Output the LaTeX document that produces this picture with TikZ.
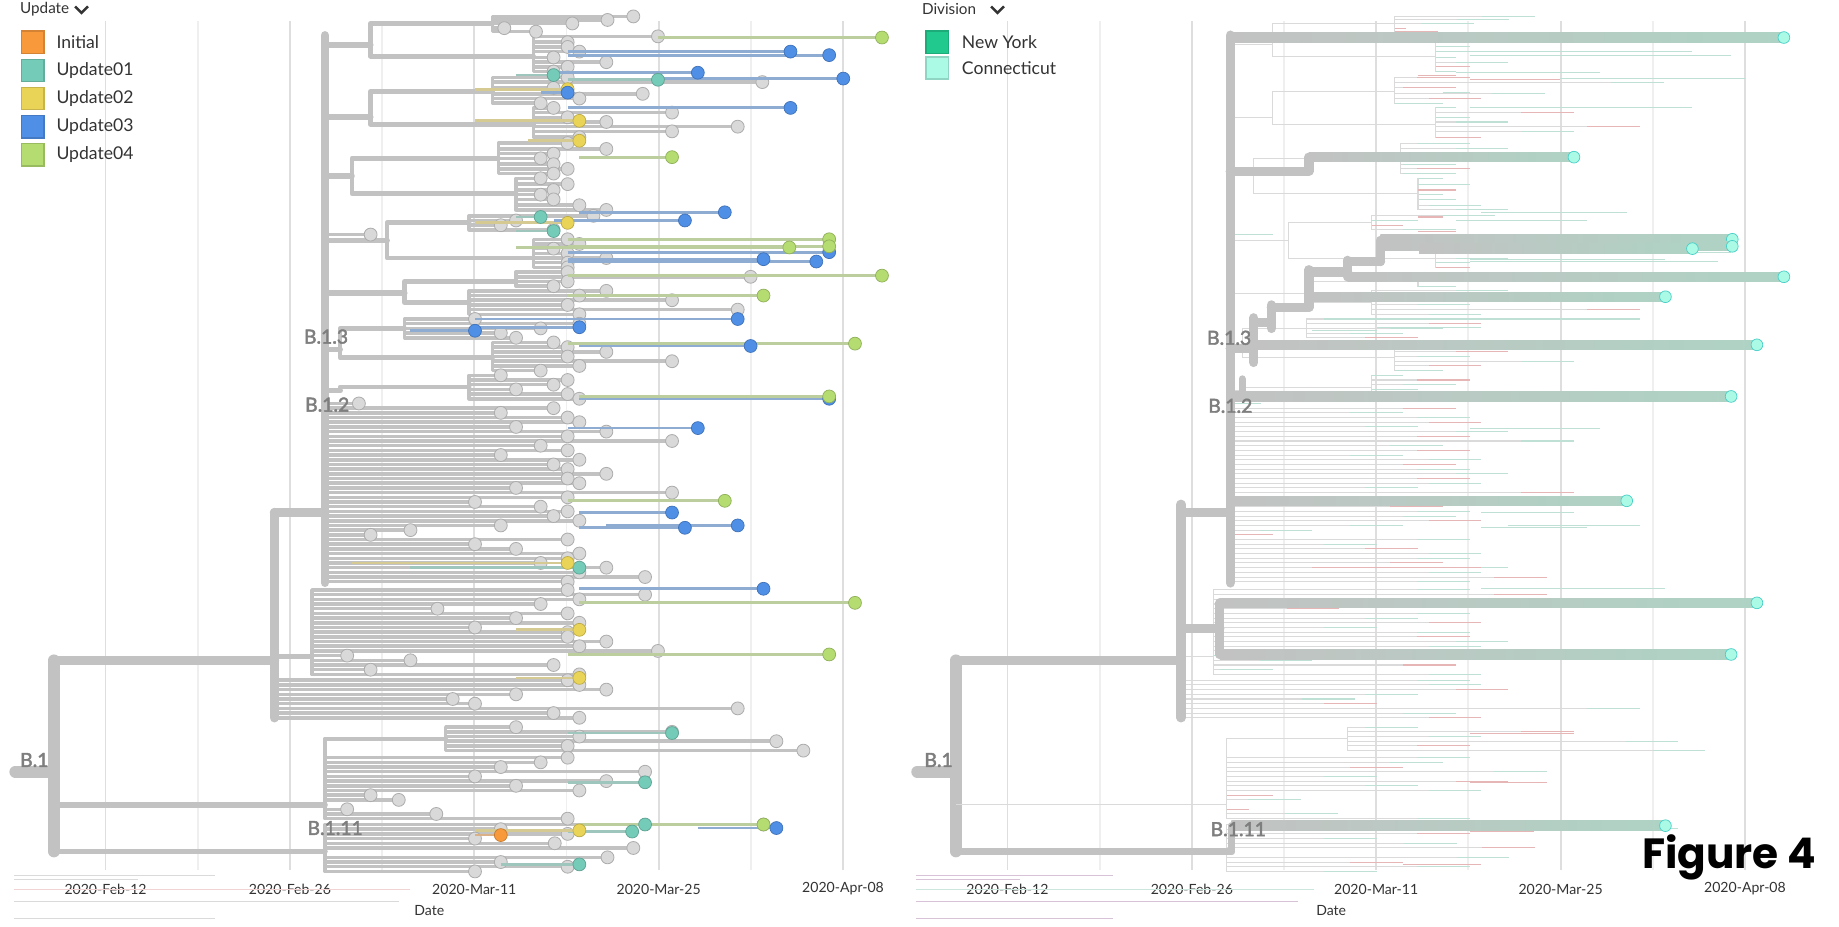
\documentclass[tikz,border=0pt]{standalone}
\usepackage{fontspec}
\setmainfont{Lato}
\newfontfamily\cladefont{Lato}[FakeBold=2.2]
\newfontfamily\figfont{Poppins}

\definecolor{branch}{HTML}{C2C2C2}
\definecolor{thinline}{HTML}{DADADA}
\definecolor{tipfill}{HTML}{D9D9D9}
\definecolor{tipedge}{HTML}{ADADAD}
\definecolor{gridmaj}{HTML}{DEDEDE}
\definecolor{gridmin}{HTML}{EFEFEF}
\definecolor{textdark}{HTML}{333333}
\definecolor{labelgrey}{HTML}{7E7E7E}
\definecolor{cInitial}{HTML}{F89A3C}
\definecolor{cUpOne}{HTML}{74CBB8}
\definecolor{cUpTwo}{HTML}{EAD458}
\definecolor{cUpThree}{HTML}{4F8FE6}
\definecolor{cUpFour}{HTML}{B4DC70}
\definecolor{cNY}{HTML}{22C98F}
\definecolor{cCT}{HTML}{AAFAE6}
\definecolor{ctgreen}{HTML}{AED3C4}
\definecolor{tipteal}{HTML}{BFE0D4}
\definecolor{tipred}{HTML}{E6B6B6}

% inner links: y / from x / to x
\def\innerlinks{38/277/316,100/277/316,150/277/300,205/277/330,250/277/345,298/277/290,333/277/290}

% leaf fans: parent x / parent y / node x / node y / {tip y / tip x, ...}
\def\treegroups{%
316/38/420/20/{14/540,17/518,20/488,24/430,27/457},%
316/38/455/48/{31/561,36/484,40/484,44/494,49/472,53/517,57/484,61/472},%
316/100/420/78/{66/484,70/650,75/472,80/548,84/494,88/461},%
316/100/455/106/{92/472,96/573,100/484,104/517,108/629,112/573,117/494},%
300/150/425/135/{122/484,127/517,131/472,135/461,140/472,144/484,148/472},%
300/150/440/165/{152/461,157/484,162/472,166/461,170/472,175/494,179/517},%
277/200/277/200/{200/316},%
330/205/400/190/{184/506,188/440,192/427,196/472},%
330/205/455/220/{204/484,208/494,212/472,216/484,220/517,224/484,228/484},%
345/250/440/240/{232/484,236/640,240/484,244/472},%
345/250/400/258/{248/517,252/494,256/573,260/484,264/629,268/494},%
290/298/345/280/{272/405,276/494,280/461,284/427,288/440},%
290/298/420/305/{292/472,296/484,300/517,304/484,308/573,312/494,316/461},%
290/333/400/330/{320/427,324/484,328/472,332/440,336/484,340/494},%
277/346/277/346/{344/306,348/472},%
277/420/277/420/{352/427,356/484,360/494,364/440,368/517,372/484,376/573,380/461,384/484,388/427,392/494,396/472,400/484,404/517,408/484,412/494,416/440,420/573,424/484,428/405,432/461,436/484,440/472,444/494,448/427,452/350,456/316,460/484,464/405,468/440,472/494,476/484,480/461,484/517,488/494,492/550,496/484},%
234/560/266/560/{503/484,507/550,511/494,515/461,519/373,523/484,527/440,531/494,535/405,539/484,543/484,547/517,551/494,555/561,559/296,563/350,567/472,571/316,575/494},%
234/598/234/598/{580/484,584/494,588/517,592/440,596/386,600/405,604/629,608/472,612/494},%
277/686/380/630/{620/440,624/573,628/494,632/662,636/484,640/685},%
46/686/277/686/{646/484,650/461,654/427,658/550,662/405,666/517,670/440,674/494,678/316,682/340,690/296,694/372,698/484},%
46/726/277/726/{703/651,707/427,711/484,715/405,719/473,723/540,731/518,735/427,739/484,743/405}}

% coloured tips: y / start x / tip x
\def\tipsInitial{712/405/427}
\def\tipsOne{64/440/472,68/484/561,185/440/461,197/440/472,484/350/494,625/484/573,667/484/550,703/494/550,709/484/539,737/427/494}
\def\tipsTwo{76/405/484,103/405/494,120/450/494,190/405/484,480/300/484,537/440/494,578/440/494,708/405/494}
\def\tipsThree{44/484/674,47/484/707,62/472/595,67/561/719,92/484/674,79/461/484,181/494/618,188/472/584,221/484/651,223/484/696,215/484/707,272/405/629,295/494/640,282/350/405,279/405/494,340/494/707,365/484/595,437/494/573,450/494/584,448/517/629,502/494/651,706/595/662}
\def\tipsFour{32/561/752,134/494/573,204/484/707,210/484/707,211/440/673,235/484/752,252/484/651,293/484/729,338/494/707,427/484/618,514/494/729,558/484/707,703/494/651}

\newcommand{\tiplines}[2]{\foreach \y/\xs/\xe in #2 \draw[cline=#1] (\xs,\y) -- (\xe,\y);}
\newcommand{\tipdots}[2]{\foreach \y/\xs/\xe in #2 \filldraw[ctip=#1] (\xe,\y) circle (5.5);}
\newcommand{\ctbranch}[3]{%
  \shade[left color=branch, right color=ctgreen] (#2,#1-4) rectangle (#3,#1+4);
  \filldraw[fill=cCT, draw=cCT!70!black!60!cyan, line width=0.6] (#3,#1) circle (5);}

\begin{document}
\begin{tikzpicture}[x=1pt, y=-1pt,
  br/.style={draw=branch, line width=#1, line cap=round, line join=round},
  br/.default=3,
  thinbr/.style={draw=thinline, line width=0.9},
  gridline/.style={draw=#1, line width=1.6},
  gtip/.style={fill=tipfill, draw=tipedge, line width=0.7},
  ctip/.style={fill=#1, draw=#1!80!black, line width=0.6},
  cline/.style={draw=#1!45!branch, line width=2.4},
  clade/.style={font=\fontsize{16.5}{18}\cladefont, text=labelgrey, anchor=west, inner sep=0},
  ticklab/.style={font=\fontsize{12}{14}\selectfont, text=textdark, inner sep=0},
  headtext/.style={font=\fontsize{13}{15}\selectfont, text=textdark, anchor=west, inner sep=0},
  legtext/.style={font=\fontsize{15}{17}\selectfont, text=textdark, anchor=west, inner sep=0},
  swatch/.style={minimum size=19, inner sep=0, fill=#1, draw=#1!85!black, line width=1.2}]

\useasboundingbox (0,0) rectangle (1568,790);
\fill[white] (0,0) rectangle (1568,790);

% date grid
\foreach \k in {0,...,8} {
  \ifodd\k \def\gc{gridmin}\else\def\gc{gridmaj}\fi
  \draw[gridline=\gc] ({90+78.6*\k},18) -- ({90+78.6*\k},742);
  \draw[gridline=\gc] ({859+78.6*\k},18) -- ({859+78.6*\k},742);
}
\foreach \d [count=\i from 0] in {Feb-12,Feb-26,Mar-11,Mar-25,Apr-08} {
  \node[ticklab] (tl\i) at ({90+157.2*\i},758) {2020-\d};
  \node[ticklab] (tr\i) at ({859+157.2*\i},758) {2020-\d};
}
\node[ticklab] (dateL) at (366,776) {Date};
\node[ticklab] (dateR) at (1135,776) {Date};

% stray branches under the axis
\draw[thinline] (12,746) -- (183,746) (12,750) -- (118,750) (12,768) -- (340,768) (12,783) -- (183,783);
\draw[tipred!60] (12,758) -- (350,758);
\draw[thinline!70!violet!60] (781,746) -- (949,746) (781,750) -- (870,750) (781,768) -- (1107,768) (781,783) -- (949,783);
\draw[tipteal!80] (781,758) -- (1120,758);

%%% left tree
\draw[br=10] (13,658) -- (46,658);
\draw[br=10] (46,563) -- (46,726);
\draw[br=8] (46,563) -- (234,563);
\draw[br=5] (46,686) -- (277,686);
\draw[br=5] (46,726) -- (277,726);
\draw[br=8] (234,437) -- (234,612);
\draw[br=8] (234,437) -- (277,437);
\draw[br=7] (277,30) -- (277,497);

\foreach \y/\xa/\xb in \innerlinks \draw[br=5] (\xa,\y) -- (\xb,\y);
\foreach \px/\py/\gx/\gy/\rows in \treegroups {
  \draw[br=4] (\px,\py) |- (\gx,\gy);
  \foreach \y/\xb in \rows
    \draw[br=3] (\gx,\gy) |- (\xb,\y);
}
\foreach \px/\py/\gx/\gy/\rows in \treegroups {
  \foreach \y/\xb in \rows
    \filldraw[gtip] (\xb,\y) circle (5.5);
}
\tiplines{cUpOne}{\tipsOne}
\tiplines{cUpTwo}{\tipsTwo}
\tiplines{cUpThree}{\tipsThree}
\tiplines{cUpFour}{\tipsFour}
\tiplines{cInitial}{\tipsInitial}
\tipdots{cUpOne}{\tipsOne}
\tipdots{cUpTwo}{\tipsTwo}
\tipdots{cUpThree}{\tipsThree}
\tipdots{cUpFour}{\tipsFour}
\tipdots{cInitial}{\tipsInitial}

%%% right tree, thin branches first
\begin{scope}[xshift=769]
\foreach \y/\xa/\xb in \innerlinks \draw[thinbr] (\xa,\y) -- (\xb,\y);
\foreach \px/\py/\gx/\gy/\rows in \treegroups {
  \draw[thinbr] (\px,\py) |- (\gx,\gy);
  \foreach \y/\xb in \rows {
    \draw[thinbr] (\gx,\gy) |- (\xb,\y);
    \pgfmathtruncatemacro\m{mod(\y,3)}
    \ifnum\m=0 \def\tc{tipred}\else\def\tc{tipteal}\fi
    \draw[draw=\tc, line width=0.9] ({max(\gx,\xb-45)},\y) -- (\xb,\y);
  }
}
\foreach \y/\xs/\xe in \tipsThree \draw[draw=tipteal, line width=0.9] (\xs,\y) -- (\xe,\y);
\foreach \y/\xs/\xe in \tipsOne \draw[draw=tipred, line width=0.9] (\xs,\y) -- (\xe,\y);
\end{scope}

% right backbone
\draw[br=10] (782,658) -- (815,658);
\draw[br=10] (815,563) -- (815,726);
\draw[br=8] (815,563) -- (1007,563);
\draw[thinbr] (815,686) -- (1046,686);
\draw[br=6] (815,726) -- (1050,726);
\draw[br=8] (1007,430) -- (1007,612);
\draw[br=8] (1007,437) -- (1049,437);
\draw[br=8] (1049,30) -- (1049,497);

% Connecticut lineages
\draw[br=8] (1049,146) -- (1116,146) -- (1116,134);
\draw[br=8] (1049,297) -- (1069,297);
\draw[br=8] (1069,271) -- (1069,309);
\draw[br=8] (1069,275) -- (1084,275);
\draw[br=8] (1084,260) -- (1084,280);
\draw[br=8] (1084,262) -- (1116,262);
\draw[br=8] (1116,230) -- (1116,262);
\draw[br=8] (1116,232) -- (1149,232);
\draw[br=8] (1149,222) -- (1149,236);
\draw[br=8] (1149,223) -- (1177,223);
\draw[br=8] (1177,205) -- (1177,223);
\draw[br=6] (1059,323) -- (1059,338);
\draw[br=8] (1007,536) -- (1040,536);
\draw[br=8] (1040,514) -- (1040,558);
\draw[br=6] (1050,704) -- (1050,726);
\ctbranch{32}{1049}{1521}
\ctbranch{134}{1116}{1342}
\ctbranch{204}{1177}{1477}
\ctbranch{210}{1177}{1477}
\ctbranch{212}{1210}{1443}
\ctbranch{236}{1149}{1521}
\ctbranch{253}{1116}{1420}
\ctbranch{294}{1069}{1498}
\ctbranch{338}{1049}{1476}
\ctbranch{427}{1049}{1387}
\ctbranch{514}{1040}{1498}
\ctbranch{558}{1040}{1476}
\ctbranch{704}{1050}{1420}

% clade labels
\node[clade] (b1L) at (17,648) {B.1};
\node[clade] (b13L) at (259,287) {B.1.3};
\node[clade] (b12L) at (260,345) {B.1.2};
\node[clade] (b111L) at (262,706) {B.1.11};
\node[clade] (b1R) at (788,648) {B.1};
\node[clade] (b13R) at (1029,288) {B.1.3};
\node[clade] (b12R) at (1030,346) {B.1.2};
\node[clade] (b111R) at (1032,707) {B.1.11};

% legends
\node[headtext] (updhead) at (17,8) {Update};
\draw[textdark, line width=2.2] (64,5.5) -- (69.5,11) -- (75,5.5);
\foreach \c/\t [count=\i] in {cInitial/Initial, cUpOne/Update01, cUpTwo/Update02, cUpThree/Update03, cUpFour/Update04} {
  \node[swatch=\c] (sw\i) at (28,{12+24*\i}) {};
  \node[legtext] (lg\i) at (48,{12+24*\i}) {\t};
}
\node[headtext] (divhead) at (786,8) {Division};
\draw[textdark, line width=2.2] (845,5.5) -- (850.5,11) -- (856,5.5);
\node[swatch=cNY] (swny) at (799,36) {};
\node[legtext] (lgny) at (820,36) {New York};
\node[swatch=cCT] (swct) at (799,58) {};
\node[legtext] (lgct) at (820,58) {Connecticut};

\node[font={\fontsize{36}{40}\figfont\bfseries}, anchor=east, inner sep=0] (figlab) at (1549,731) {Figure 4};

\end{tikzpicture}
\end{document}
